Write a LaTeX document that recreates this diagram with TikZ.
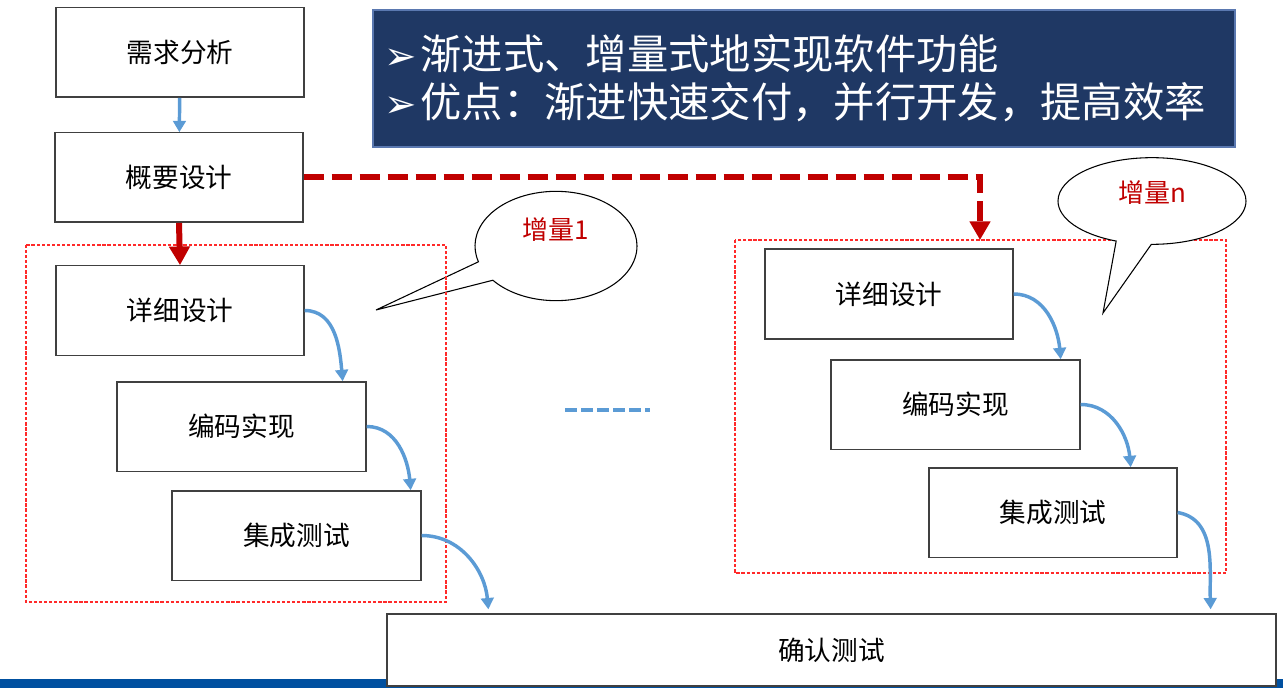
\documentclass[tikz,border=0pt]{standalone}
\usepackage{fontspec}
\setmainfont{Noto Sans CJK SC}
\newfontfamily\dingfont{DejaVu Sans}
\usetikzlibrary{arrows.meta,shapes.callouts,calc}

\definecolor{flowblue}{HTML}{5B9BD5}
\definecolor{phasered}{HTML}{C00000}
\definecolor{navy}{HTML}{1F3864}
\definecolor{navyedge}{HTML}{5A78B0}
\definecolor{barblue}{HTML}{0050A0}
\definecolor{grpred}{HTML}{FF2A2A}

\newcommand{\bulletarrow}{{\dingfont\fontsize{29}{29}\selectfont ➢}\hspace{3pt}}

\begin{document}
\begin{tikzpicture}[
  x=0.75pt, y=-0.75pt,
  font=\fontsize{20}{22}\selectfont,
  box/.style={draw=black!75, line width=1pt, fill=white,
    minimum width=186pt, minimum height=67pt},
  groupbox/.style={draw=grpred, line width=0.8pt, dash pattern=on 2.4pt off 1.4pt},
  bubble/.style={ellipse callout, draw, fill=white, line width=0.8pt,
    callout pointer arc=22},
  titlebox/.style={draw=navyedge, line width=0.8pt, fill=navy, text=white,
    font=\fontsize{31}{36}\selectfont, align=left, text width=630pt,
    minimum width=646.5pt, minimum height=102.75pt, inner xsep=8pt},
  flow/.style={-{Triangle[width=9.5pt,length=8.5pt]}, line width=2.6pt, draw=flowblue},
  phase/.style={-{Triangle[width=15pt,length=14pt]}, line width=4.5pt, draw=phasered},
  phasedash/.style={phase, dash pattern=on 15pt off 6pt},
  tag/.style={text=phasered, font=\fontsize{19.5}{21}\selectfont}
]
\useasboundingbox (0,0) rectangle (1283,688);

% bottom bar
\fill[barblue] (0,679) rectangle (1283,688);

% summary
\node[titlebox] (summary) at (804,78.5)
  {\bulletarrow 渐进式、增量式地实现软件功能\\
   \bulletarrow 优点：渐进快速交付，并行开发，提高效率};

% common phases
\node[box] (req) at (180,52.5) {需求分析};
\node[box] (arch) at (179,177.5) {概要设计};

% increment 1
\node[bubble, minimum width=121.5pt, minimum height=82pt,
  callout absolute pointer={(376,310)},
  label={[tag, yshift=12pt]center:增量1}] (tag1) at (556,246) {};
\draw[groupbox] (26,245) rectangle (446,602);
\node[box] (dd1) at (180,310.5) {详细设计};
\node[box, minimum width=186.75pt] (code1) at (241.5,426.5) {编码实现};
\node[box, minimum width=186.75pt] (it1) at (296.5,535.5) {集成测试};

% increment n
\draw[groupbox] (735,240) rectangle (1226,573);
\node[bubble, minimum width=141pt, minimum height=65pt,
  callout absolute pointer={(1103,313)},
  label={[tag, yshift=6pt]center:增量n}] (tagn) at (1152,201) {};
\node[box, minimum height=67.5pt] (dd2) at (889,294) {详细设计};
\node[box, minimum width=186.75pt] (code2) at (955.5,404.5) {编码实现};
\node[box] (it2) at (1053,512.5) {集成测试};

\node[box, minimum width=666.75pt, minimum height=54pt] (accept) at (831.5,650) {确认测试};

\coordinate (incn) at (980,240);

% more increments
\draw[flowblue, line width=3pt, dash pattern=on 9pt off 3pt] (565,410) -- (650,410);

\draw[flow] (req) -- (arch);
\draw[phase] (arch.south) -- (dd1.north);
\draw[phasedash] (arch.east) -| (incn);

\draw[flow] (dd1.east) to[out=0, in=95] ($(code1.north east)+(-24,0)$);
\draw[flow] (code1.east) to[out=0, in=95] ($(it1.north east)+(-11,0)$);
\draw[flow] (it1.east) to[out=0, in=95] ($(accept.north west)+(102,-4)$);
\draw[flow] (dd2.east) to[out=0, in=95] ($(code2.north east)+(-20,0)$);
\draw[flow] (code2.east) to[out=0, in=95] ($(it2.north east)+(-47,0)$);
\draw[flow] (it2.east) to[out=-10, in=92] ($(accept.north east)+(-66,-4)$);
\end{tikzpicture}
\end{document}
